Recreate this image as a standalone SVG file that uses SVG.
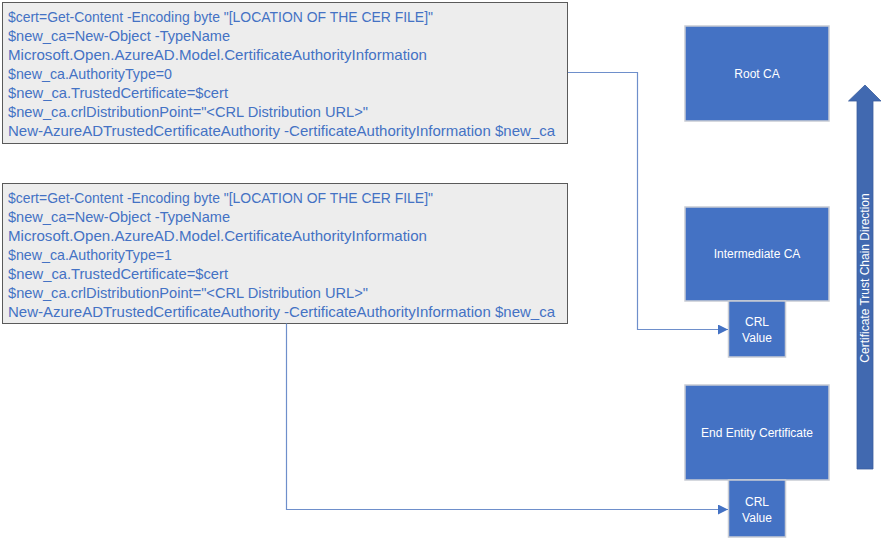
<svg xmlns="http://www.w3.org/2000/svg" width="884" height="540" viewBox="0 0 884 540">
<style>
.code{fill:#EDEDED;stroke:#5A5A5A;stroke-width:1}
.ct{font-family:"Liberation Sans",Arial,sans-serif;font-size:14.5px;fill:#4472C4}
.nb{fill:#4472C4;stroke:#C8CCD4;stroke-width:1.5}
.nt{font-family:"Liberation Sans",Arial,sans-serif;font-size:12px;fill:#FFFFFF;text-anchor:middle}
.conn{fill:none;stroke:#6E8FCB;stroke-width:1.2}
</style>
<defs>
<marker id="ah" viewBox="0 0 10 10" refX="10" refY="5" markerWidth="10" markerHeight="10" markerUnits="userSpaceOnUse" orient="auto">
<path d="M0,0 L10,5 L0,10 z" fill="#4472C4"/>
</marker>
</defs>
<rect width="884" height="540" fill="#FFFFFF"/>
<g id="code1">
<rect class="code" x="2.5" y="2.5" width="565" height="141"/>
<text class="ct" x="8" y="22" textLength="425" lengthAdjust="spacingAndGlyphs">$cert=Get-Content -Encoding byte "[LOCATION OF THE CER FILE]"</text>
<text class="ct" x="8" y="41" textLength="222" lengthAdjust="spacingAndGlyphs">$new_ca=New-Object -TypeName</text>
<text class="ct" x="8" y="60" textLength="419" lengthAdjust="spacingAndGlyphs">Microsoft.Open.AzureAD.Model.CertificateAuthorityInformation</text>
<text class="ct" x="8" y="79" textLength="164" lengthAdjust="spacingAndGlyphs">$new_ca.AuthorityType=0</text>
<text class="ct" x="8" y="98" textLength="220" lengthAdjust="spacingAndGlyphs">$new_ca.TrustedCertificate=$cert</text>
<text class="ct" x="8" y="117" textLength="360" lengthAdjust="spacingAndGlyphs">$new_ca.crlDistributionPoint="&lt;CRL Distribution URL&gt;"</text>
<text class="ct" x="8" y="136" textLength="547" lengthAdjust="spacingAndGlyphs">New-AzureADTrustedCertificateAuthority -CertificateAuthorityInformation $new_ca</text>
</g>
<g id="code2">
<rect class="code" x="2.5" y="183.5" width="565" height="140"/>
<text class="ct" x="8" y="203" textLength="425" lengthAdjust="spacingAndGlyphs">$cert=Get-Content -Encoding byte "[LOCATION OF THE CER FILE]"</text>
<text class="ct" x="8" y="222" textLength="222" lengthAdjust="spacingAndGlyphs">$new_ca=New-Object -TypeName</text>
<text class="ct" x="8" y="241" textLength="419" lengthAdjust="spacingAndGlyphs">Microsoft.Open.AzureAD.Model.CertificateAuthorityInformation</text>
<text class="ct" x="8" y="260" textLength="164" lengthAdjust="spacingAndGlyphs">$new_ca.AuthorityType=1</text>
<text class="ct" x="8" y="279" textLength="220" lengthAdjust="spacingAndGlyphs">$new_ca.TrustedCertificate=$cert</text>
<text class="ct" x="8" y="298" textLength="360" lengthAdjust="spacingAndGlyphs">$new_ca.crlDistributionPoint="&lt;CRL Distribution URL&gt;"</text>
<text class="ct" x="8" y="317" textLength="547" lengthAdjust="spacingAndGlyphs">New-AzureADTrustedCertificateAuthority -CertificateAuthorityInformation $new_ca</text>
</g>
<g id="root-ca">
<rect class="nb" x="685" y="26" width="144" height="95"/>
<text class="nt" x="757" y="78">Root CA</text>
</g>
<g id="intermediate-ca">
<rect class="nb" x="685" y="207" width="144" height="94"/>
<text class="nt" x="757" y="258">Intermediate CA</text>
</g>
<g id="crl1">
<rect class="nb" x="728.5" y="301" width="57" height="56"/>
<text class="nt" x="757" y="326">CRL</text>
<text class="nt" x="757" y="342">Value</text>
</g>
<g id="end-entity">
<rect class="nb" x="685" y="385" width="144" height="95"/>
<text class="nt" x="757" y="437">End Entity Certificate</text>
</g>
<g id="crl2">
<rect class="nb" x="728.5" y="480" width="57" height="57"/>
<text class="nt" x="757" y="506">CRL</text>
<text class="nt" x="757" y="522">Value</text>
</g>
<g id="trust-arrow">
<path d="M857,469 L857,101 L848.5,101 L865,85 L881,101 L873,101 L873,469 Z" fill="#4169B0" stroke="#3B5E9E" stroke-width="0.8"/>
<text class="nt" transform="translate(869,278) rotate(-90)">Certificate Trust Chain Direction</text>
</g>
<g id="connectors">
<path class="conn" d="M568,72.5 L637.5,72.5 L637.5,329.5 L728,329.5" marker-end="url(#ah)"/>
<path class="conn" d="M286.5,323.5 L286.5,509.5 L728,509.5" marker-end="url(#ah)"/>
</g>
</svg>
